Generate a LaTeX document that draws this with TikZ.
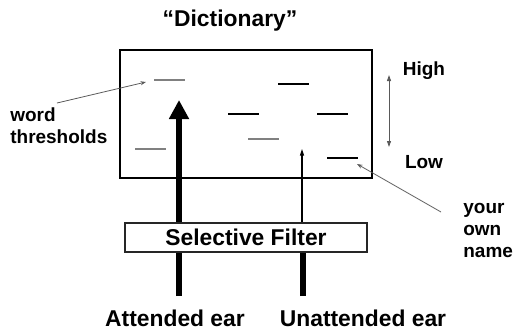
\documentclass[tikz,border=0pt]{standalone}
\usepackage{fontspec}
\setmainfont{Liberation Sans}
\usetikzlibrary{arrows.meta}

\tikzset{
    bigtext/.style={font=\bfseries\fontsize{13}{15}\selectfont, inner sep=0pt},
    smalltext/.style={font=\bfseries\fontsize{10.8}{12.5}\selectfont, inner sep=0pt, align=left},
    thrline/.style={line width=0.6pt},
    leader/.style={gray!70!black, line width=0.45pt, -{Stealth[length=0.11cm,width=0.08cm]}},
    earline/.style={line width=3pt},
}

\begin{document}
\begin{tikzpicture}[x=0.02cm, y=-0.02cm]
    \useasboundingbox (0,0) rectangle (517,332);

    % the store of words
    \node[bigtext, anchor=base] (title) at (230,26.5) {“Dictionary”};
    \node[draw, line width=0.6pt, minimum width=5.04cm, minimum height=2.56cm, inner sep=0pt] (dict) at (246,114) {};

    % thresholds, one dash per word
    \foreach \x/\y/\c in {154/80/gray, 278/84/black, 228/114/black, 317/114/black,
                          248/139/gray, 135/149/gray, 327/158/black}
        {
            \draw[thrline, \c] (\x,\y) -- ++(31,0);
        }

    % attended channel, goes through
    \coordinate (attin) at (179,296);
    \coordinate (atttip) at (179,100);
    \draw[earline, -{Triangle[width=0.38cm,length=0.38cm]}] (attin) -- (atttip);

    \node[draw, black!85, fill=white, line width=0.6pt, minimum width=4.84cm, minimum height=0.58cm,
          font=\bfseries\fontsize{13}{15}\selectfont, text=black] (filter) at (246,237.5) {Selective Filter};

    % unattended channel, weak after the filter
    \coordinate (unin) at (303,296);
    \coordinate (untip) at (302,149);
    \draw[earline] (unin) -- (unin |- filter.south);
    \draw[line width=0.6pt, -{Triangle[width=0.08cm,length=0.13cm]}] (untip |- filter.north) -- (untip);

    \node[bigtext, anchor=base] (att) at (175,326) {Attended ear};
    \node[bigtext, anchor=base] (unatt) at (363,326) {Unattended ear};

    % threshold scale
    \coordinate (scaletop) at (389,75);
    \coordinate (scalebot) at (389,147);
    \draw[gray!70!black, line width=0.5pt, {Triangle[width=0.08cm,length=0.12cm]}-{Triangle[width=0.08cm,length=0.12cm]}] (scaletop) -- (scalebot);
    \node[smalltext, anchor=base] (high) at (424,75) {High};
    \node[smalltext, anchor=base] (low) at (424,168) {Low};

    % labels with leaders
    \node[smalltext, anchor=west] (wt) at (10,125.5) {word\\thresholds};
    \coordinate (wtfrom) at (57,103);
    \coordinate (wtto) at (146,82);
    \draw[leader] (wtfrom) -- (wtto);

    \node[smalltext, anchor=west] (own) at (463,230.5) {your\\own\\name};
    \coordinate (ownfrom) at (441,212);
    \coordinate (ownto) at (357,164);
    \draw[leader] (ownfrom) -- (ownto);
\end{tikzpicture}
\end{document}
